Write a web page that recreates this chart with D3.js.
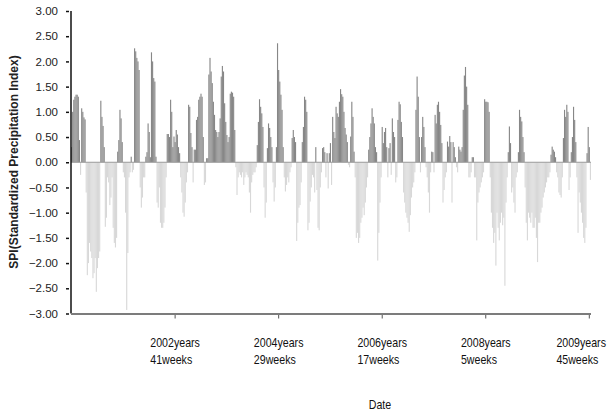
<!DOCTYPE html>
<html>
<head>
<meta charset="utf-8">
<style>
  body { margin: 0; background: #fff; }
  text { font-family: "Liberation Sans", Arial, sans-serif; }
</style>
</head>
<body>
<svg width="607" height="413"></svg>
<script src="https://d3js.org/d3.v7.min.js"></script>
<script>

// weekly SPI values (2001 week 1 onwards)
const spi = [
  0.3, 1.0, 1.24, 1.3, 1.34, 1.34, 1.3, 0.44, -0.25, 1.07,
  1.0, 0.89, 0.85, -0.6, -2.24, -2.0, -1.6, -1.77, -1.9, -2.3,
  -2.2, -1.9, -2.57, -2.1, -1.9, -1.77, 1.22, 0.9, 0.72, 0.3,
  -1.28, -1.1, -0.3, -0.4, -0.85, -0.7, -0.3, -1.3, -1.6, -1.69,
  -1.5, 0.21, 0.44, 1.04, 0.87, 0.4, -0.2, -0.3, -1.0, -2.93,
  -1.8, -0.3, -0.2, 0.11, -0.2, -0.15, 2.26, 2.2, 2.07, 2.0,
  1.83, -0.5, -0.9, -0.7, -0.3, -0.3, 0.11, 0.2, 0.77, 0.6,
  0.1, 2.18, 2.0, 1.67, 1.6, 0.11, -0.8, -0.9, -0.5, -1.2,
  -1.3, -1.3, -1.2, -0.9, -0.3, 0.56, 0.56, 0.5, 1.24, 1.0,
  0.3, 0.51, 0.4, 0.64, 0.55, 0.3, 0.18, -0.3, -0.6, -1.0,
  -1.08, -0.8, -0.4, -0.2, 1.14, 1.1, 0.58, 0.3, -0.4, 0.25,
  0.25, 0.84, 0.9, 1.24, 1.3, 1.36, 1.3, 0.5, -0.45, -0.4,
  0.08, 0.08, 1.74, 2.07, 1.8, 1.57, 1.2, 0.94, 0.64, 0.6,
  0.5, 0.6, 0.87, 1.7, 1.91, 1.8, 1.17, 0.8, 0.54, 0.4,
  0.5, 1.36, 1.40, 1.38, 1.3, 0.64, -0.1, -0.65, -0.3, -0.2,
  -0.25, -0.3, -0.2, -0.45, -0.3, -0.2, -0.25, -0.3, -0.6, -1.0,
  -0.4, -0.25, -0.2, -0.2, -0.1, 0.34, 0.8, 1.25, 1.1, 0.97,
  0.7, -0.5, -1.1, -0.8, 0.28, 0.77, 0.68, 0.5, 0.3, -0.4,
  -0.78, -0.5, 0.3, 2.36, 1.83, 1.6, 1.34, 1.04, 0.3, -0.3,
  -0.58, -0.45, -0.3, -0.4, -0.2, -0.1, 0.48, 0.64, 0.5, 0.4,
  -1.56, -1.2, -0.9, -0.85, -0.4, 0.4, 0.7, 1.3, 1.24, 1.0,
  -1.35, -1.2, -0.78, -0.5, -0.25, -0.3, -0.6, 0.3, -0.55, -1.3,
  -1.35, -0.5, -0.2, 0.28, 0.3, 0.2, -0.3, 0.18, -0.52, 0.18,
  0.38, -0.45, 0.9, 0.6, 0.48, 1.1, 0.97, 0.9, 1.2, 1.45,
  1.35, 1.3, 1.0, 0.68, 0.55, 0.4, -0.05, -0.1, 0.51, 1.2,
  0.9, 0.21, -0.3, -1.5, -1.4, -1.6, -1.5, -1.2, -1.1, -0.9,
  -1.05, -0.8, -0.5, -0.3, 0.25, 0.5, 0.77, 1.07, 0.9, 0.77,
  0.3, 0.2, -1.95, -1.4, -0.8, -0.3, 0.7, 0.38, 0.6, 0.68,
  0.3, -0.3, 0.28, 0.38, -0.25, 0.87, 0.6, 0.5, -0.4, -0.3,
  0.84, 1.2, 1.15, 0.8, 0.5, -0.6, -0.8, -1.0, -1.1, -1.2,
  -1.38, -1.05, -0.7, -0.5, -0.4, -0.2, 1.04, 1.7, 1.3, 0.5,
  -0.2, 0.5, 0.9, 0.7, 0.3, -0.1, -0.3, -0.6, -1.0, -0.2,
  0.21, 0.2, -0.2, 0.94, 0.77, 1.14, 1.2, 1.0, 0.74, 0.38,
  -0.8, -0.55, -0.3, -0.2, 0.41, 0.31, 0.52, 0.4, -0.8, 0.4,
  0.3, 0.1, -0.1, -0.2, 0.31, 0.25, 0.21, 0.3, 1.04, 1.72,
  1.89, 1.5, 1.14, -0.3, -0.3, -0.2, 0.1, 0.1, -0.3, -0.3,
  -1.55, -0.8, -0.6, -0.5, -0.4, -0.3, -0.2, 1.25, 1.2, 1.2,
  1.19, 1.0, -0.3, -1.0, -1.3, -1.6, -1.4, -2.05, -1.0, -1.3,
  -1.55, -1.2, -1.0, -1.25, -1.1, -2.45, -0.8, -0.3, 0.2, 0.71,
  0.38, -0.6, -0.5, -0.8, -1.0, -0.3, -0.2, 0.2, 1.04, 0.9,
  0.81, 0.5, 0.2, -0.5, -1.2, -1.55, -1.0, -1.1, -1.2, -1.0,
  -1.3, -1.3, -1.1, -1.5, -1.98, -1.2, -1.2, -1.0, -0.9, -0.7,
  -0.6, -0.5, -0.4, -0.3, -0.3, -0.2, 0.15, 0.31, 0.25, 0.21,
  0.1, -0.2, -0.3, -0.6, -0.65, -0.7, -0.3, 0.48, 1.04, 0.9,
  1.14, 1.0, -0.55, -0.3, 0.2, 0.5, 1.1, 0.84, 0.4, -0.3,
  -1.4, -0.6, -0.8, -1.0, -1.2, -1.5, -1.6, -1.3, 0.18, 0.7,
  0.3, -0.35
];

// categories: year / week of each value
const startYear = 2001;
const weeksPerYear = 52;
const weeks = spi.map((v, i) => {
  const yr = startYear + Math.floor(i / weeksPerYear);
  const wk = (i % weeksPerYear) + 1;
  return yr + "-W" + String(wk).padStart(2, "0");
});

const tickWeeks = ["2002-W41", "2004-W29", "2006-W17", "2008-W05", "2009-W45"];
const tickYears = ["2002years", "2004years", "2006years", "2008years", "2009years"];
const tickWeekText = ["41weeks", "29weeks", "17weeks", "5weeks", "45weeks"];

const yTicks = [3, 2.5, 2, 1.5, 1, 0.5, 0, -0.5, -1, -1.5, -2, -2.5, -3];

const svg = d3.select("svg");
const svgWidth = 607;

const plotLeft = 71, plotRight = 591, plotTop = 11, plotBottom = 313.5;
const narrow = 0.85; // squeeze for the condensed label font

const x = d3.scaleBand()
  .domain(weeks)
  .range([plotLeft, plotRight])
  .padding(0);

const y = d3.scaleLinear()
  .domain([-3, 3])
  .range([plotBottom, plotTop]);

// bars
svg.append("g")
  .selectAll("rect")
  .data(spi)
  .enter()
  .append("rect")
  .attr("x", (d, i) => x(weeks[i]))
  .attr("width", x.bandwidth())
  .attr("y", d => y(Math.max(0, d)))
  .attr("height", d => Math.abs(y(d) - y(0)))
  .attr("fill", d => d >= 0 ? "#878787" : "#d8d8d8");

// zero line
svg.append("line")
  .attr("x1", plotLeft).attr("x2", plotRight)
  .attr("y1", y(0)).attr("y2", y(0))
  .attr("stroke", "#9a9a9a")
  .attr("stroke-width", 1);

// y axis
const yAxis = svg.append("g")
  .attr("transform", "translate(" + plotLeft + ",0)")
  .call(d3.axisLeft(y).tickValues(yTicks).tickFormat(d3.format(".2f")).tickSize(5).tickPadding(8));
yAxis.select(".domain").remove();
yAxis.selectAll(".tick line").attr("stroke", "#111").attr("stroke-width", 1.5)
  .attr("x1", -5).attr("x2", -2);
yAxis.selectAll(".tick text")
  .attr("font-family", "Liberation Sans, Arial, sans-serif")
  .attr("font-size", 11.5)
  .attr("fill", "#222");

svg.append("line")
  .attr("x1", plotLeft).attr("x2", plotLeft)
  .attr("y1", plotTop).attr("y2", plotBottom)
  .attr("stroke", "#111")
  .attr("stroke-width", 1.5);

// x axis
const xAxis = svg.append("g")
  .attr("transform", "translate(0," + plotBottom + ")")
  .call(d3.axisBottom(x).tickValues(tickWeeks).tickFormat("").tickSize(5).tickSizeOuter(0));
xAxis.select(".domain").remove();
xAxis.selectAll(".tick line").attr("stroke", "#555").attr("stroke-width", 1);

svg.append("line")
  .attr("x1", plotLeft).attr("x2", plotRight)
  .attr("y1", plotBottom + 0.5).attr("y2", plotBottom + 0.5)
  .attr("stroke", "#7c7c7c")
  .attr("stroke-width", 2);

// two-line tick labels, squeezed horizontally like a narrow font
const labels = svg.append("g")
  .selectAll("g")
  .data(tickWeeks)
  .enter()
  .append("g");

const labelText = labels.append("text")
  .attr("font-size", 12.5)
  .attr("fill", "#111");

labelText.append("tspan")
  .attr("x", 0)
  .attr("y", 347)
  .text((d, i) => tickYears[i]);
labelText.append("tspan")
  .attr("x", 0)
  .attr("y", 364)
  .text((d, i) => tickWeekText[i]);

labels.each(function(d) {
  const g = d3.select(this);
  const w = g.select("tspan").node().getComputedTextLength() * narrow;
  const cx = x(d) + x.bandwidth() / 2;
  const lx = Math.min(cx - w / 2, svgWidth - w - 1);
  g.attr("transform", "translate(" + lx + ",0) scale(" + narrow + ",1)");
});

// axis titles
svg.append("g")
  .attr("transform", "translate(380,0) scale(" + narrow + ",1)")
  .append("text")
  .attr("x", 0)
  .attr("y", 409)
  .attr("text-anchor", "middle")
  .attr("font-size", 12.5)
  .attr("fill", "#111")
  .text("Date");

svg.append("text")
  .attr("transform", "translate(18,162) rotate(-90)")
  .attr("text-anchor", "middle")
  .attr("font-size", 12)
  .attr("font-weight", "bold")
  .attr("fill", "#222")
  .text("SPI(Standardized Precipitation Index)");

</script>
</body>
</html>
